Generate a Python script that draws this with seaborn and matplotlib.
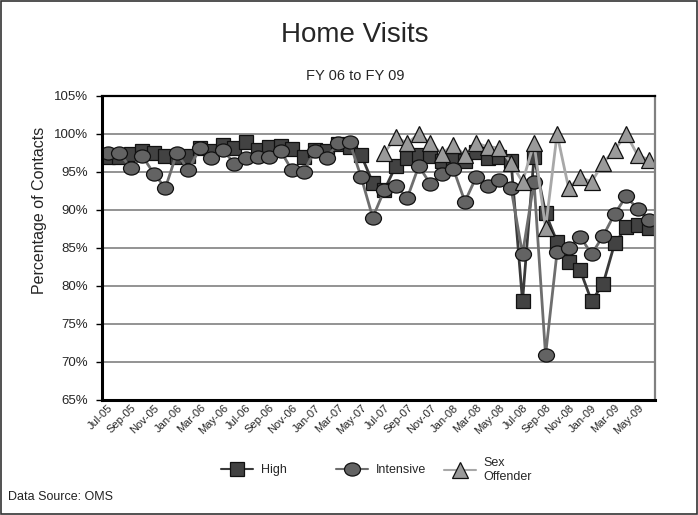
import numpy as np
import pandas as pd
import matplotlib
matplotlib.use("Agg")
import matplotlib.pyplot as plt
import matplotlib.transforms as mtransforms
from matplotlib.path import Path
from matplotlib.patches import Rectangle
from matplotlib.lines import Line2D
import seaborn as sns

# ---------------- data ----------------
months = ["Jul-05","Aug-05","Sep-05","Oct-05","Nov-05","Dec-05","Jan-06","Feb-06","Mar-06","Apr-06","May-06","Jun-06",
          "Jul-06","Aug-06","Sep-06","Oct-06","Nov-06","Dec-06","Jan-07","Feb-07","Mar-07","Apr-07","May-07","Jun-07",
          "Jul-07","Aug-07","Sep-07","Oct-07","Nov-07","Dec-07","Jan-08","Feb-08","Mar-08","Apr-08","May-08","Jun-08",
          "Jul-08","Aug-08","Sep-08","Oct-08","Nov-08","Dec-08","Jan-09","Feb-09","Mar-09","Apr-09","May-09","Jun-09"]

high = [97.0, 97.0, 97.4, 97.8, 97.5, 97.1, 97.0, 97.1, 98.2, 97.7, 98.6, 98.1,
        99.0, 97.9, 98.3, 98.4, 98.0, 97.0, 97.9, 97.7, 98.7, 98.3, 97.2, 93.6,
        92.6, 95.8, 96.9, 97.2, 97.1, 96.5, 96.6, 96.5, 97.6, 96.9, 97.0, 96.5,
        78.0, 97.0, 89.6, 85.8, 83.2, 82.1, 78.0, 80.3, 85.6, 87.7, 88.0, 87.6]

intensive = [97.5, 97.5, 95.5, 97.1, 94.8, 92.9, 97.5, 95.2, 98.2, 96.9, 97.9, 96.1,
             96.8, 97.0, 97.0, 97.8, 95.2, 95.0, 97.8, 96.9, 98.8, 98.9, 94.3, 89.0,
             92.6, 93.2, 91.6, 95.8, 93.4, 94.7, 95.4, 91.1, 94.4, 93.1, 93.9, 92.9,
             84.2, 93.7, 70.9, 84.5, 85.0, 86.5, 84.2, 86.6, 89.5, 91.8, 90.1, 88.7]

sex_offender = [np.nan] * 24 + [97.5, 99.6, 98.8, 100.0, 98.8, 97.4, 98.6, 97.2, 98.8, 98.3, 98.2, 96.2,
                                93.7, 98.8, 87.6, 100.0, 92.9, 94.3, 93.7, 96.2, 97.9, 100.0, 97.2, 96.6]

y_ticks = [65, 70, 75, 80, 85, 90, 95, 100, 105]
series_names = ["High", "Intensive", "Sex\nOffender"]

df = pd.DataFrame({"idx": np.arange(len(months)), "month": months,
                   "High": high, "Intensive": intensive, "SexOffender": sex_offender})

# ---------------- style ----------------
sns.set_style("white")
plt.rcParams["font.family"] = ["Liberation Sans", "DejaVu Sans"]
NARROW = ["Liberation Sans Narrow", "Liberation Sans", "DejaVu Sans"]

fig = plt.figure(figsize=(6.98, 5.15), dpi=100)
ax = fig.add_axes([102/698, 1 - 400/515, 553/698, 304/515])

# ellipse marker for the Intensive series
uc = Path.unit_circle()
ellipse = Path(uc.vertices * np.array([1.0, 0.82]), uc.codes)

specs = [
    ("High", "s", 10.0, "#424242", "#3a3a3a"),
    ("Intensive", ellipse, 11.5, "#636363", "#6e6e6e"),
    ("SexOffender", "^", 11.0, "#9a9a9a", "#a8a8a8"),
]
for col, mk, ms, mfc, lc in specs:
    sns.lineplot(data=df, x="idx", y=col, ax=ax, color=lc, lw=2.0,
                 marker=mk, markersize=ms, markerfacecolor=mfc,
                 markeredgecolor="#111111", markeredgewidth=0.9)

ax.set_xlim(-0.5, len(months) - 0.5)
ax.set_ylim(65, 105)
ax.set_yticks(y_ticks)
ax.set_yticklabels([f"{v}%" for v in y_ticks], fontsize=9.5)
ax.set_xlabel("")
ax.set_ylabel("")

xt = list(range(0, len(months), 2))
ax.set_xticks(xt)
labels = ax.set_xticklabels([months[i] for i in xt], rotation=45, ha="right",
                            rotation_mode="anchor", fontsize=8, family=NARROW)
offset = mtransforms.ScaledTranslation(6/72, -1/72, fig.dpi_scale_trans)
for lb in labels:
    lb.set_transform(lb.get_transform() + offset)

ax.tick_params(axis="x", length=0, pad=2)
ax.tick_params(axis="y", length=4, width=1, color="black", pad=6, left=True)

ax.yaxis.grid(True, color="#8a8a8a", lw=1.3)
ax.xaxis.grid(False)
ax.set_axisbelow(True)

for s in ["left", "bottom"]:
    ax.spines[s].set_color("black")
    ax.spines[s].set_linewidth(2.2)
ax.spines["top"].set_color("black")
ax.spines["top"].set_linewidth(1.6)
ax.spines["right"].set_color("#808080")
ax.spines["right"].set_linewidth(1.6)

# titles
fig.text(355/698, 1 - 35/515, "Home Visits", ha="center", va="center", fontsize=20)
fig.text(355/698, 1 - 76/515, "FY 06 to FY 09", ha="center", va="center", fontsize=10.5)
fig.text(40/698, 1 - 210/515, "Percentage of Contacts", rotation=90, ha="center",
         va="center", fontsize=11.5, family=NARROW)

# legend: three single-entry legends placed like the Excel legend
centers = [237, 352, 460]
hl = 2.6
for (col, mk, ms, mfc, lc), name, cx in zip(specs, series_names, centers):
    h = Line2D([0], [0], color=lc, lw=1.5, marker=mk, markersize=ms,
               markerfacecolor=mfc, markeredgecolor="#111111", markeredgewidth=0.9)
    half = hl * 9 / 2 / 72 * 100  # half handle length in px
    leg = fig.legend([h], [name], loc="center left",
                     bbox_to_anchor=((cx - half) / 698, 1 - 470/515),
                     frameon=False, fontsize=9, handlelength=hl, handletextpad=0.6,
                     borderpad=0, borderaxespad=0)

fig.text(8/698, 1 - 497/515, "Data Source: OMS", ha="left", va="center", fontsize=9,
         color="#222222")

fig.patches.append(Rectangle((0.002, 0.002), 0.996, 0.996, transform=fig.transFigure,
                             fill=False, edgecolor="#333333", lw=1.2))

fig.savefig("out.png", dpi=100, facecolor="white")
